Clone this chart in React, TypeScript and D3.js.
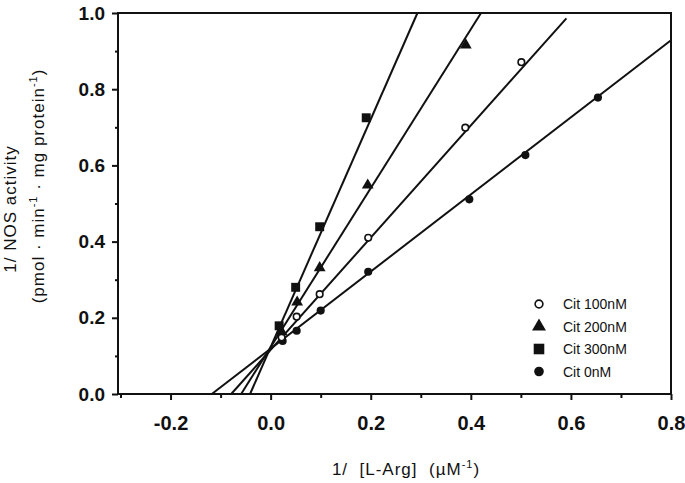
import { useEffect, useRef } from "react";
import * as d3 from "d3";

// Lineweaver-Burk plot, 1/v vs 1/[L-Arg]
const seriesNames = ["Cit 0nM", "Cit 100nM", "Cit 200nM", "Cit 300nM"];
const legendOrder = ["Cit 100nM", "Cit 200nM", "Cit 300nM", "Cit 0nM"];

const xCit0 = [0.024, 0.052, 0.1, 0.195, 0.397, 0.509, 0.654];
const yCit0 = [0.139, 0.166, 0.219, 0.321, 0.511, 0.627, 0.778];
const xCit100 = [0.022, 0.052, 0.098, 0.195, 0.389, 0.501];
const yCit100 = [0.148, 0.203, 0.262, 0.41, 0.699, 0.871];
const xCit200 = [0.022, 0.053, 0.098, 0.194, 0.39];
const yCit200 = [0.163, 0.241, 0.331, 0.548, 0.916];
const xCit300 = [0.017, 0.05, 0.098, 0.191];
const yCit300 = [0.179, 0.28, 0.439, 0.725];

// fitted lines (slope, intercept, last x drawn)
const lineSlope = [1.012, 1.472, 2.086, 2.99];
const lineIntercept = [0.119, 0.116, 0.123, 0.123];
const lineXMax = [0.8, 0.591, 0.8, 0.8];

const xMajorTicks = [-0.2, 0, 0.2, 0.4, 0.6, 0.8];
const xMinorTicks = [-0.3, -0.1, 0.1, 0.3, 0.5, 0.7];
const yMajorTicks = [0, 0.2, 0.4, 0.6, 0.8, 1.0];
const yMinorTicks = [0.1, 0.3, 0.5, 0.7, 0.9];

const font = "'Liberation Sans', Arial, Helvetica, sans-serif";

function drawChart(svgEl: SVGSVGElement) {
  const svg = d3.select(svgEl);
  svg.selectAll("*").remove();

  const left = 118;
  const right = 671;
  const top = 13;
  const bottom = 394;

  const x = d3.scaleLinear().domain([-0.305, 0.8]).range([left, right]);
  const y = d3.scaleLinear().domain([0, 1]).range([bottom, top]);

  const xs = [xCit0, xCit100, xCit200, xCit300];
  const ys = [yCit0, yCit100, yCit200, yCit300];

  const symbols: Record<string, d3.SymbolType> = {
    "Cit 0nM": d3.symbolCircle,
    "Cit 100nM": d3.symbolCircle,
    "Cit 200nM": d3.symbolTriangle,
    "Cit 300nM": d3.symbolSquare,
  };
  const sizes: Record<string, number> = {
    "Cit 0nM": 52,
    "Cit 100nM": 34,
    "Cit 200nM": 60,
    "Cit 300nM": 80,
  };

  // frame
  svg
    .append("rect")
    .attr("x", left)
    .attr("y", top)
    .attr("width", right - left)
    .attr("height", bottom - top)
    .attr("fill", "none")
    .attr("stroke", "#111")
    .attr("stroke-width", 2);

  // x axis
  const gx = svg.append("g").attr("transform", `translate(0,${bottom})`);
  gx.call(
    d3
      .axisBottom(x)
      .tickValues(xMajorTicks)
      .tickSize(6)
      .tickPadding(16)
      .tickFormat((d) => d3.format(".1f")(+d).replace("−", "-")),
  );
  gx.selectAll("text")
    .attr("font-family", font)
    .attr("font-size", 20)
    .attr("font-weight", "bold")
    .attr("fill", "#111");
  const gxMinor = svg.append("g").attr("transform", `translate(0,${bottom})`);
  gxMinor.call(
    d3.axisBottom(x).tickValues(xMinorTicks).tickSize(4).tickFormat(() => ""),
  );
  [gx, gxMinor].forEach((g) => {
    g.selectAll(".domain").remove();
    g.selectAll("line").attr("stroke", "#111").attr("stroke-width", 2);
  });

  // y axis
  const gy = svg.append("g").attr("transform", `translate(${left},0)`);
  gy.call(
    d3
      .axisLeft(y)
      .tickValues(yMajorTicks)
      .tickSize(6)
      .tickPadding(7)
      .tickFormat(d3.format(".1f")),
  );
  gy.selectAll("text")
    .attr("font-family", font)
    .attr("font-size", 19)
    .attr("font-weight", "bold")
    .attr("fill", "#111");
  const gyMinor = svg.append("g").attr("transform", `translate(${left},0)`);
  gyMinor.call(
    d3.axisLeft(y).tickValues(yMinorTicks).tickSize(3).tickFormat(() => ""),
  );
  [gy, gyMinor].forEach((g) => {
    g.selectAll(".domain").remove();
    g.selectAll("line").attr("stroke", "#111").attr("stroke-width", 2);
  });

  // fitted lines
  const lineGen = d3
    .line<[number, number]>()
    .x((d) => x(d[0]))
    .y((d) => y(d[1]));
  seriesNames.forEach((name, i) => {
    const m = lineSlope[i];
    const b = lineIntercept[i];
    const x0 = -b / m;
    const x1 = Math.min(lineXMax[i], (1 - b) / m);
    svg
      .append("path")
      .attr("d", lineGen([
        [x0, 0],
        [x1, m * x1 + b],
      ]))
      .attr("fill", "none")
      .attr("stroke", "#111")
      .attr("stroke-width", 2);
  });

  // points
  seriesNames.forEach((name, i) => {
    const open = name === "Cit 100nM";
    const sym = d3.symbol().type(symbols[name]).size(sizes[name]);
    svg
      .append("g")
      .selectAll("path")
      .data(xs[i].map((v, j) => [v, ys[i][j]]))
      .join("path")
      .attr("transform", (d) => `translate(${x(d[0])},${y(d[1])})`)
      .attr("d", sym()!)
      .attr("fill", open ? "#fff" : "#111")
      .attr("stroke", "#111")
      .attr("stroke-width", open ? 1.6 : 0);
  });

  // legend
  const legendY = d3
    .scalePoint<string>()
    .domain(legendOrder)
    .range([304, 371.5]);
  const lg = svg.append("g");
  legendOrder.forEach((name) => {
    const open = name === "Cit 100nM";
    const sym = d3.symbol().type(symbols[name]).size(sizes[name] * 1.4);
    lg.append("path")
      .attr("transform", `translate(539,${legendY(name)})`)
      .attr("d", sym()!)
      .attr("fill", open ? "#fff" : "#111")
      .attr("stroke", "#111")
      .attr("stroke-width", open ? 1.6 : 0);
    lg.append("text")
      .attr("x", 563)
      .attr("y", legendY(name)!)
      .attr("dy", "0.36em")
      .attr("font-family", font)
      .attr("font-size", 14)
      .attr("fill", "#111")
      .text(name);
  });

  // y title
  const yt1 = svg
    .append("text")
    .attr("transform", "translate(16,209) rotate(-90)")
    .attr("text-anchor", "middle")
    .attr("font-family", font)
    .attr("font-size", 17)
    .attr("letter-spacing", 1)
    .attr("fill", "#111");
  yt1.text("1/ NOS activity");

  const yt2 = svg
    .append("text")
    .attr("transform", "translate(44,186) rotate(-90)")
    .attr("text-anchor", "middle")
    .attr("font-family", font)
    .attr("font-size", 17)
    .attr("letter-spacing", 1)
    .attr("fill", "#111");
  yt2.append("tspan").text("(pmol · min");
  yt2.append("tspan").attr("font-size", 11).attr("dy", -7).text("-1");
  yt2.append("tspan").attr("dy", 7).text(" · mg protein");
  yt2.append("tspan").attr("font-size", 11).attr("dy", -7).text("-1");
  yt2.append("tspan").attr("dy", 7).text(")");

  // x title
  const xt = svg
    .append("text")
    .attr("x", 406)
    .attr("y", 475)
    .attr("text-anchor", "middle")
    .attr("font-family", font)
    .attr("font-size", 17)
    .attr("letter-spacing", 1)
    .attr("fill", "#111")
    .style("white-space", "pre");
  xt.append("tspan").text("1/  [L-Arg]  (µM");
  xt.append("tspan").attr("font-size", 11).attr("dy", -7).text("-1");
  xt.append("tspan").attr("dy", 7).text(")");
}

export default function App() {
  const ref = useRef<SVGSVGElement>(null);
  useEffect(() => {
    if (ref.current) drawChart(ref.current);
  }, []);
  return (
    <svg
      ref={ref}
      width={685}
      height={483}
      style={{ position: "absolute", left: 0, top: 0, background: "#fff" }}
    />
  );
}
